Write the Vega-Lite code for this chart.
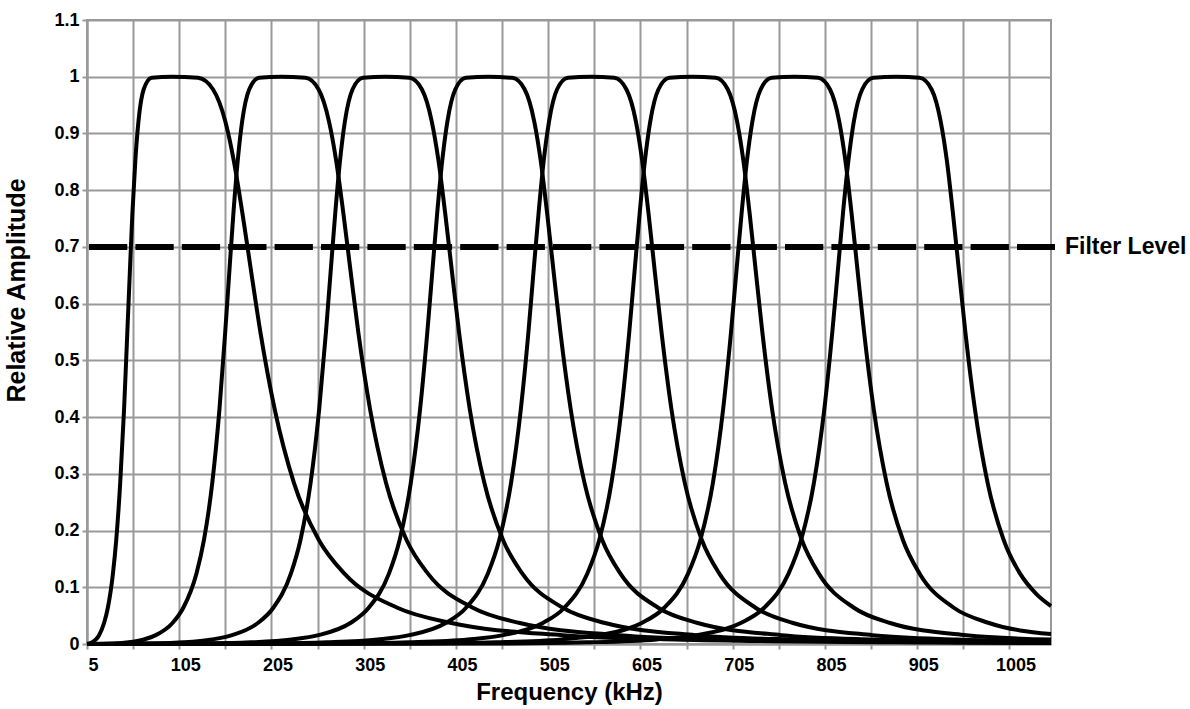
{
  "$schema": "https://vega.github.io/schema/vega-lite/v6.json",
  "width": 964,
  "height": 624,
  "autosize": {"type": "none"},
  "padding": {"left": 87, "top": 20, "right": 139, "bottom": 65},
  "background": "white",
  "config": {
    "font": "Liberation Sans",
    "view": {"stroke": "#999999", "strokeWidth": 2}
  },
  "datasets": {
    "curves": [
      {"curve":"F1","freq":5,"amp":0.0003},{"curve":"F1","freq":7.45,"amp":0.001},{"curve":"F1","freq":10.6,"amp":0.0029},{"curve":"F1","freq":14.7,"amp":0.008},{"curve":"F1","freq":18.1,"amp":0.0156},{"curve":"F1","freq":23.5,"amp":0.037},{"curve":"F1","freq":27.6,"amp":0.0639},{"curve":"F1","freq":33.1,"amp":0.124},{"curve":"F1","freq":36.7,"amp":0.1834},{"curve":"F1","freq":41.0,"amp":0.2841},{"curve":"F1","freq":45.2,"amp":0.4143},{"curve":"F1","freq":48.7,"amp":0.5494},{"curve":"F1","freq":51.4,"amp":0.6537},{"curve":"F1","freq":54.2,"amp":0.7592},{"curve":"F1","freq":57.4,"amp":0.8522},{"curve":"F1","freq":60.8,"amp":0.9214},{"curve":"F1","freq":66.4,"amp":0.9775},{"curve":"F1","freq":75.1,"amp":0.998},{"curve":"F1","freq":97,"amp":1},{"curve":"F1","freq":125.3,"amp":0.998},{"curve":"F1","freq":141.7,"amp":0.9775},{"curve":"F1","freq":154.9,"amp":0.9214},{"curve":"F1","freq":164.1,"amp":0.8522},{"curve":"F1","freq":173.5,"amp":0.7592},{"curve":"F1","freq":183.2,"amp":0.6537},{"curve":"F1","freq":193.0,"amp":0.5494},{"curve":"F1","freq":208.4,"amp":0.4143},{"curve":"F1","freq":229.3,"amp":0.2841},{"curve":"F1","freq":256.3,"amp":0.1834},{"curve":"F1","freq":284.1,"amp":0.124},{"curve":"F1","freq":341.4,"amp":0.0639},{"curve":"F1","freq":400.0,"amp":0.037},{"curve":"F1","freq":520.1,"amp":0.0156},{"curve":"F1","freq":642.2,"amp":0.008},{"curve":"F1","freq":889.1,"amp":0.0029},{"curve":"F1","freq":1050,"amp":0.0018},

      {"curve":"F2","freq":5,"amp":0},{"curve":"F2","freq":35.9,"amp":0.001},{"curve":"F2","freq":49.9,"amp":0.0029},{"curve":"F2","freq":66.7,"amp":0.008},{"curve":"F2","freq":79.6,"amp":0.0156},{"curve":"F2","freq":97.7,"amp":0.037},{"curve":"F2","freq":109.4,"amp":0.0639},{"curve":"F2","freq":123.6,"amp":0.124},{"curve":"F2","freq":131.8,"amp":0.1834},{"curve":"F2","freq":140.8,"amp":0.2841},{"curve":"F2","freq":148.6,"amp":0.4143},{"curve":"F2","freq":154.8,"amp":0.5494},{"curve":"F2","freq":159.2,"amp":0.6537},{"curve":"F2","freq":163.7,"amp":0.7592},{"curve":"F2","freq":168.4,"amp":0.8522},{"curve":"F2","freq":173.2,"amp":0.9214},{"curve":"F2","freq":180.8,"amp":0.9775},{"curve":"F2","freq":191.6,"amp":0.998},{"curve":"F2","freq":215.2,"amp":1},{"curve":"F2","freq":241.8,"amp":0.998},{"curve":"F2","freq":256.1,"amp":0.9775},{"curve":"F2","freq":267.3,"amp":0.9214},{"curve":"F2","freq":275.1,"amp":0.8522},{"curve":"F2","freq":282.9,"amp":0.7592},{"curve":"F2","freq":291.0,"amp":0.6537},{"curve":"F2","freq":299.1,"amp":0.5494},{"curve":"F2","freq":311.8,"amp":0.4143},{"curve":"F2","freq":329.1,"amp":0.2841},{"curve":"F2","freq":351.4,"amp":0.1834},{"curve":"F2","freq":374.6,"amp":0.124},{"curve":"F2","freq":423.2,"amp":0.0639},{"curve":"F2","freq":474.2,"amp":0.037},{"curve":"F2","freq":581.6,"amp":0.0156},{"curve":"F2","freq":694.2,"amp":0.008},{"curve":"F2","freq":928.4,"amp":0.0029},{"curve":"F2","freq":1050,"amp":0.0019},

      {"curve":"F3","freq":5,"amp":0},{"curve":"F3","freq":80.7,"amp":0.001},{"curve":"F3","freq":109.1,"amp":0.0029},{"curve":"F3","freq":140.4,"amp":0.008},{"curve":"F3","freq":162.3,"amp":0.0156},{"curve":"F3","freq":190.2,"amp":0.037},{"curve":"F3","freq":207.0,"amp":0.0639},{"curve":"F3","freq":226.0,"amp":0.124},{"curve":"F3","freq":236.4,"amp":0.1834},{"curve":"F3","freq":247.4,"amp":0.2841},{"curve":"F3","freq":256.7,"amp":0.4143},{"curve":"F3","freq":264.0,"amp":0.5494},{"curve":"F3","freq":269.0,"amp":0.6537},{"curve":"F3","freq":274.1,"amp":0.7592},{"curve":"F3","freq":279.3,"amp":0.8522},{"curve":"F3","freq":284.6,"amp":0.9214},{"curve":"F3","freq":292.8,"amp":0.9775},{"curve":"F3","freq":304.2,"amp":0.998},{"curve":"F3","freq":328.3,"amp":1},{"curve":"F3","freq":354.4,"amp":0.998},{"curve":"F3","freq":368.1,"amp":0.9775},{"curve":"F3","freq":378.7,"amp":0.9214},{"curve":"F3","freq":386.0,"amp":0.8522},{"curve":"F3","freq":393.3,"amp":0.7592},{"curve":"F3","freq":400.8,"amp":0.6537},{"curve":"F3","freq":408.3,"amp":0.5494},{"curve":"F3","freq":419.9,"amp":0.4143},{"curve":"F3","freq":435.7,"amp":0.2841},{"curve":"F3","freq":456.0,"amp":0.1834},{"curve":"F3","freq":477.0,"amp":0.124},{"curve":"F3","freq":520.8,"amp":0.0639},{"curve":"F3","freq":566.7,"amp":0.037},{"curve":"F3","freq":664.3,"amp":0.0156},{"curve":"F3","freq":767.9,"amp":0.008},{"curve":"F3","freq":987.6,"amp":0.0029},{"curve":"F3","freq":1050,"amp":0.0023},

      {"curve":"F4","freq":5,"amp":0},{"curve":"F4","freq":139.0,"amp":0.001},{"curve":"F4","freq":182.6,"amp":0.0029},{"curve":"F4","freq":226.8,"amp":0.008},{"curve":"F4","freq":255.8,"amp":0.0156},{"curve":"F4","freq":290.5,"amp":0.037},{"curve":"F4","freq":310.4,"amp":0.0639},{"curve":"F4","freq":332.3,"amp":0.124},{"curve":"F4","freq":343.9,"amp":0.1834},{"curve":"F4","freq":356.0,"amp":0.2841},{"curve":"F4","freq":366.1,"amp":0.4143},{"curve":"F4","freq":373.9,"amp":0.5494},{"curve":"F4","freq":379.2,"amp":0.6537},{"curve":"F4","freq":384.6,"amp":0.7592},{"curve":"F4","freq":390.1,"amp":0.8522},{"curve":"F4","freq":395.7,"amp":0.9214},{"curve":"F4","freq":404.2,"amp":0.9775},{"curve":"F4","freq":415.8,"amp":0.998},{"curve":"F4","freq":440.2,"amp":1},{"curve":"F4","freq":466.0,"amp":0.998},{"curve":"F4","freq":479.5,"amp":0.9775},{"curve":"F4","freq":489.8,"amp":0.9214},{"curve":"F4","freq":496.8,"amp":0.8522},{"curve":"F4","freq":503.8,"amp":0.7592},{"curve":"F4","freq":511.0,"amp":0.6537},{"curve":"F4","freq":518.2,"amp":0.5494},{"curve":"F4","freq":529.3,"amp":0.4143},{"curve":"F4","freq":544.3,"amp":0.2841},{"curve":"F4","freq":563.5,"amp":0.1834},{"curve":"F4","freq":583.3,"amp":0.124},{"curve":"F4","freq":624.2,"amp":0.0639},{"curve":"F4","freq":667.0,"amp":0.037},{"curve":"F4","freq":757.8,"amp":0.0156},{"curve":"F4","freq":854.3,"amp":0.008},{"curve":"F4","freq":1050,"amp":0.003},

      {"curve":"F5","freq":5,"amp":0},{"curve":"F5","freq":207.5,"amp":0.001},{"curve":"F5","freq":265.3,"amp":0.0029},{"curve":"F5","freq":320.2,"amp":0.008},{"curve":"F5","freq":354.4,"amp":0.0156},{"curve":"F5","freq":393.9,"amp":0.037},{"curve":"F5","freq":415.9,"amp":0.0639},{"curve":"F5","freq":439.5,"amp":0.124},{"curve":"F5","freq":451.9,"amp":0.1834},{"curve":"F5","freq":464.7,"amp":0.2841},{"curve":"F5","freq":475.3,"amp":0.4143},{"curve":"F5","freq":483.5,"amp":0.5494},{"curve":"F5","freq":488.9,"amp":0.6537},{"curve":"F5","freq":494.5,"amp":0.7592},{"curve":"F5","freq":500.1,"amp":0.8522},{"curve":"F5","freq":505.9,"amp":0.9214},{"curve":"F5","freq":514.5,"amp":0.9775},{"curve":"F5","freq":526.4,"amp":0.998},{"curve":"F5","freq":550.9,"amp":1},{"curve":"F5","freq":576.6,"amp":0.998},{"curve":"F5","freq":589.8,"amp":0.9775},{"curve":"F5","freq":600.0,"amp":0.9214},{"curve":"F5","freq":606.8,"amp":0.8522},{"curve":"F5","freq":613.7,"amp":0.7592},{"curve":"F5","freq":620.7,"amp":0.6537},{"curve":"F5","freq":627.8,"amp":0.5494},{"curve":"F5","freq":638.5,"amp":0.4143},{"curve":"F5","freq":653.0,"amp":0.2841},{"curve":"F5","freq":671.5,"amp":0.1834},{"curve":"F5","freq":690.5,"amp":0.124},{"curve":"F5","freq":729.7,"amp":0.0639},{"curve":"F5","freq":770.4,"amp":0.037},{"curve":"F5","freq":856.4,"amp":0.0156},{"curve":"F5","freq":947.7,"amp":0.008},{"curve":"F5","freq":1050,"amp":0.0045},

      {"curve":"F6","freq":5,"amp":0},{"curve":"F6","freq":283.9,"amp":0.001},{"curve":"F6","freq":354.4,"amp":0.0029},{"curve":"F6","freq":417.9,"amp":0.008},{"curve":"F6","freq":456.1,"amp":0.0156},{"curve":"F6","freq":499.1,"amp":0.037},{"curve":"F6","freq":522.5,"amp":0.0639},{"curve":"F6","freq":547.3,"amp":0.124},{"curve":"F6","freq":560.3,"amp":0.1834},{"curve":"F6","freq":573.5,"amp":0.2841},{"curve":"F6","freq":584.4,"amp":0.4143},{"curve":"F6","freq":592.8,"amp":0.5494},{"curve":"F6","freq":598.4,"amp":0.6537},{"curve":"F6","freq":604.1,"amp":0.7592},{"curve":"F6","freq":609.8,"amp":0.8522},{"curve":"F6","freq":615.6,"amp":0.9214},{"curve":"F6","freq":624.4,"amp":0.9775},{"curve":"F6","freq":636.4,"amp":0.998},{"curve":"F6","freq":661,"amp":1},{"curve":"F6","freq":686.6,"amp":0.998},{"curve":"F6","freq":699.7,"amp":0.9775},{"curve":"F6","freq":709.7,"amp":0.9214},{"curve":"F6","freq":716.5,"amp":0.8522},{"curve":"F6","freq":723.3,"amp":0.7592},{"curve":"F6","freq":730.2,"amp":0.6537},{"curve":"F6","freq":737.1,"amp":0.5494},{"curve":"F6","freq":747.6,"amp":0.4143},{"curve":"F6","freq":761.8,"amp":0.2841},{"curve":"F6","freq":779.9,"amp":0.1834},{"curve":"F6","freq":798.3,"amp":0.124},{"curve":"F6","freq":836.3,"amp":0.0639},{"curve":"F6","freq":875.6,"amp":0.037},{"curve":"F6","freq":958.1,"amp":0.0156},{"curve":"F6","freq":1050,"amp":0.0078},

      {"curve":"F7","freq":5,"amp":0},{"curve":"F7","freq":367.3,"amp":0.001},{"curve":"F7","freq":448.9,"amp":0.0029},{"curve":"F7","freq":519.5,"amp":0.008},{"curve":"F7","freq":560.7,"amp":0.0156},{"curve":"F7","freq":606.3,"amp":0.037},{"curve":"F7","freq":630.8,"amp":0.0639},{"curve":"F7","freq":656.6,"amp":0.124},{"curve":"F7","freq":669.9,"amp":0.1834},{"curve":"F7","freq":683.5,"amp":0.2841},{"curve":"F7","freq":694.6,"amp":0.4143},{"curve":"F7","freq":703.1,"amp":0.5494},{"curve":"F7","freq":708.8,"amp":0.6537},{"curve":"F7","freq":714.6,"amp":0.7592},{"curve":"F7","freq":720.4,"amp":0.8522},{"curve":"F7","freq":726.3,"amp":0.9214},{"curve":"F7","freq":735.2,"amp":0.9775},{"curve":"F7","freq":747.2,"amp":0.998},{"curve":"F7","freq":771.9,"amp":1},{"curve":"F7","freq":797.4,"amp":0.998},{"curve":"F7","freq":810.5,"amp":0.9775},{"curve":"F7","freq":820.4,"amp":0.9214},{"curve":"F7","freq":827.1,"amp":0.8522},{"curve":"F7","freq":833.8,"amp":0.7592},{"curve":"F7","freq":840.6,"amp":0.6537},{"curve":"F7","freq":847.4,"amp":0.5494},{"curve":"F7","freq":857.8,"amp":0.4143},{"curve":"F7","freq":871.8,"amp":0.2841},{"curve":"F7","freq":889.5,"amp":0.1834},{"curve":"F7","freq":907.6,"amp":0.124},{"curve":"F7","freq":944.6,"amp":0.0639},{"curve":"F7","freq":982.8,"amp":0.037},{"curve":"F7","freq":1050,"amp":0.0176},

      {"curve":"F8","freq":5,"amp":0},{"curve":"F8","freq":455.0,"amp":0.001},{"curve":"F8","freq":546.2,"amp":0.0029},{"curve":"F8","freq":622.5,"amp":0.008},{"curve":"F8","freq":666.1,"amp":0.0156},{"curve":"F8","freq":713.7,"amp":0.037},{"curve":"F8","freq":739.1,"amp":0.0639},{"curve":"F8","freq":765.5,"amp":0.124},{"curve":"F8","freq":779.1,"amp":0.1834},{"curve":"F8","freq":793.0,"amp":0.2841},{"curve":"F8","freq":804.3,"amp":0.4143},{"curve":"F8","freq":812.9,"amp":0.5494},{"curve":"F8","freq":818.7,"amp":0.6537},{"curve":"F8","freq":824.5,"amp":0.7592},{"curve":"F8","freq":830.4,"amp":0.8522},{"curve":"F8","freq":836.3,"amp":0.9214},{"curve":"F8","freq":845.3,"amp":0.9775},{"curve":"F8","freq":857.4,"amp":0.998},{"curve":"F8","freq":882.1,"amp":1},{"curve":"F8","freq":907.6,"amp":0.998},{"curve":"F8","freq":920.6,"amp":0.9775},{"curve":"F8","freq":930.4,"amp":0.9214},{"curve":"F8","freq":937.1,"amp":0.8522},{"curve":"F8","freq":943.7,"amp":0.7592},{"curve":"F8","freq":950.5,"amp":0.6537},{"curve":"F8","freq":957.2,"amp":0.5494},{"curve":"F8","freq":967.5,"amp":0.4143},{"curve":"F8","freq":981.3,"amp":0.2841},{"curve":"F8","freq":998.7,"amp":0.1834},{"curve":"F8","freq":1016.5,"amp":0.124},{"curve":"F8","freq":1034.5,"amp":0.0875},{"curve":"F8","freq":1050,"amp":0.0669}
    ],
    "filter": [
      {"level": 0.7, "start": 5, "end": 1054.3, "label": "Filter Level"}
    ]
  },
  "layer": [
    {
      "data": {"name": "curves"},
      "mark": {"type": "line", "color": "black", "strokeWidth": 4, "interpolate": "monotone", "strokeJoin": "round"},
      "encoding": {
        "x": {
          "field": "freq", "type": "quantitative",
          "scale": {"domain": [5, 1050], "nice": false, "zero": false},
          "axis": {
            "values": [5, 55, 105, 155, 205, 255, 305, 355, 405, 455, 505, 555, 605, 655, 705, 755, 805, 855, 905, 955, 1005],
            "labelExpr": "(datum.value - 5) % 100 === 0 ? datum.label : ''",
            "format": "d",
            "title": "Frequency (kHz)",
            "titleFontSize": 24, "titleFontWeight": "bold", "titleColor": "black", "titlePadding": 6,
            "labelFontSize": 18, "labelFontWeight": "bold", "labelColor": "black",
            "labelPadding": 7, "labelOffset": 6, "labelFlush": false, "labelOverlap": false,
            "grid": true, "gridColor": "#999999", "gridWidth": 2,
            "tickColor": "#999999", "tickWidth": 2, "tickSize": 5,
            "domainColor": "#999999", "domainWidth": 2
          }
        },
        "y": {
          "field": "amp", "type": "quantitative",
          "scale": {"domain": [0, 1.1], "nice": false},
          "axis": {
            "values": [0, 0.1, 0.2, 0.3, 0.4, 0.5, 0.6, 0.7, 0.8, 0.9, 1, 1.1],
            "format": "~g",
            "title": "Relative Amplitude",
            "titleFontSize": 25, "titleFontWeight": "bold", "titleColor": "black", "titlePadding": 24,
            "titleY": 270,
            "labelFontSize": 18, "labelFontWeight": "bold", "labelColor": "black",
            "labelPadding": 3, "labelFlush": false, "labelOverlap": false,
            "grid": true, "gridColor": "#999999", "gridWidth": 2,
            "tickColor": "#999999", "tickWidth": 2, "tickSize": 5,
            "domainColor": "#999999", "domainWidth": 2
          }
        },
        "detail": {"field": "curve"}
      }
    },
    {
      "data": {"name": "filter"},
      "mark": {"type": "rule", "color": "black", "strokeWidth": 6, "strokeDash": [38.3, 8.1], "strokeDashOffset": 44.4, "strokeCap": "butt"},
      "encoding": {
        "x": {"field": "start", "type": "quantitative"},
        "x2": {"field": "end"},
        "y": {"field": "level", "type": "quantitative"}
      }
    },
    {
      "data": {"name": "filter"},
      "mark": {"type": "text", "align": "left", "baseline": "middle", "dx": 10, "fontSize": 23, "fontWeight": "bold", "color": "black"},
      "encoding": {
        "x": {"field": "end", "type": "quantitative"},
        "y": {"field": "level", "type": "quantitative"},
        "text": {"field": "label"}
      }
    }
  ]
}
